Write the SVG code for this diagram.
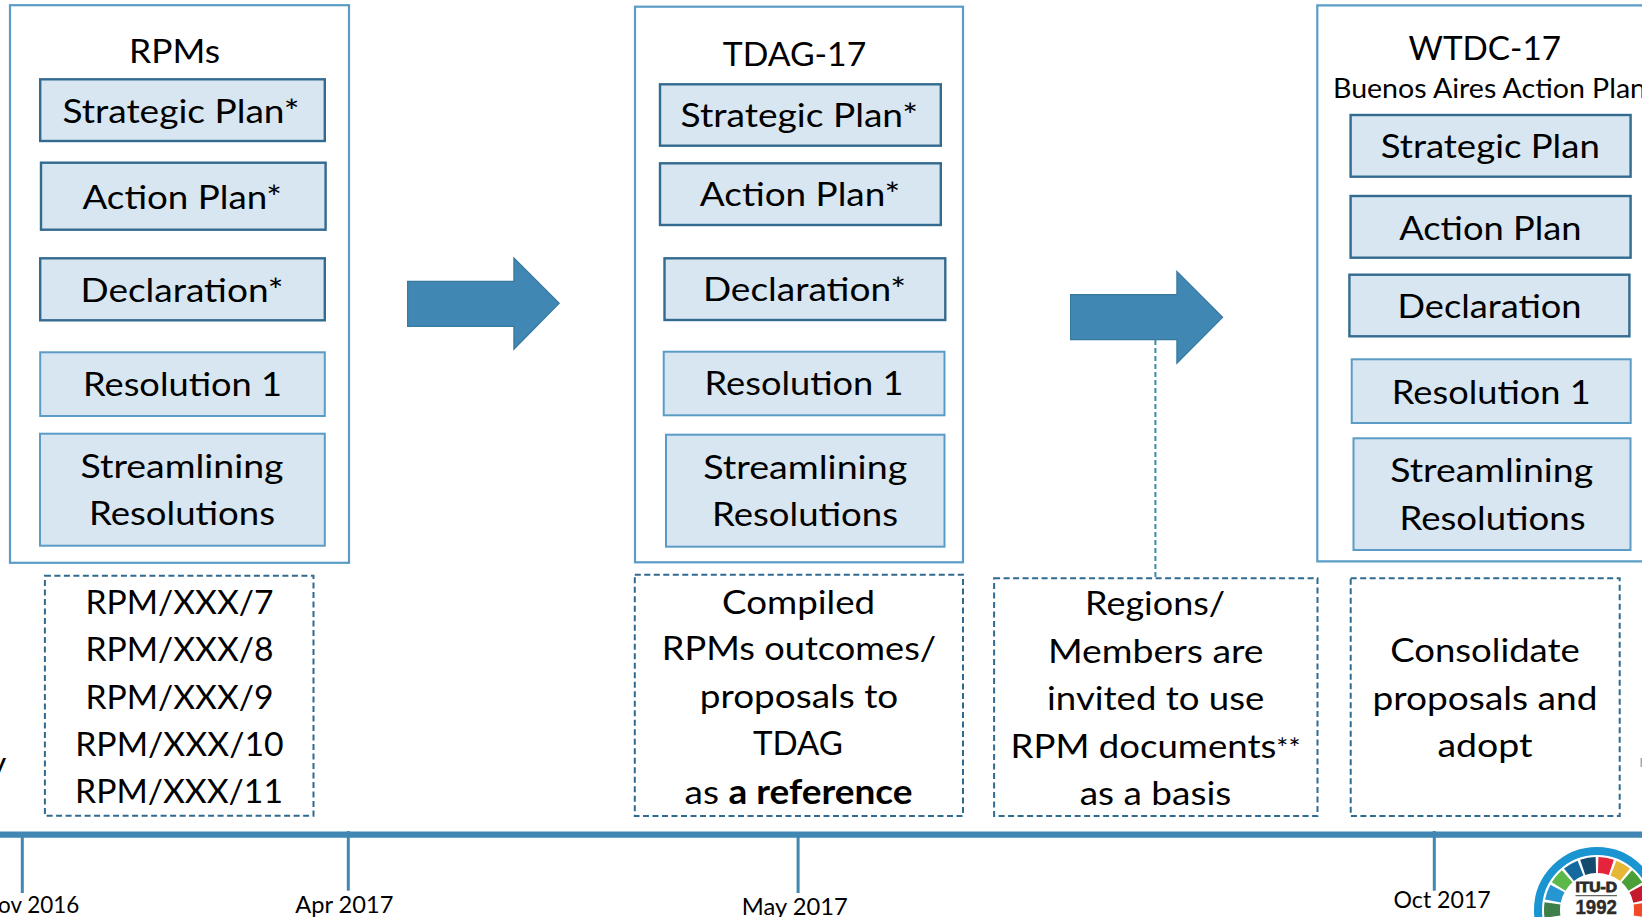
<svg xmlns="http://www.w3.org/2000/svg" width="1642" height="917" viewBox="0 0 1642 917">
<style>
text{font-family:Lato,"Liberation Sans",sans-serif;fill:#000;font-size:33.5px}
.panel{fill:#fff;stroke:#5a9cc5;stroke-width:2.2}
.bd{fill:#d7e6f0;stroke:#336a8f;stroke-width:2.4}
.bl{fill:#d7e6f0;stroke:#5a9cc5;stroke-width:2}
.dash{fill:none;stroke:#2f6a90;stroke-width:2;stroke-dasharray:6 3.5}
.arrow{fill:#4087b3;stroke:#38799f;stroke-width:1.2}
.tick{stroke:#4087b3;stroke-width:3;fill:none}
.date{font-size:22.5px}
.seg{fill:none;stroke-width:16;stroke-dasharray:13.4 270}
.logo1{font-family:"Liberation Sans",sans-serif;font-weight:700;fill:#2b2b2b}
</style>
<rect width="1642" height="917" fill="#fff"/>
<g id="connectors">
<path class="arrow" d="M407.6 281.4H513.9V258L559.2 303.3L513.9 349.2V326.3H407.6Z"/>
<path class="arrow" d="M1070.6 294.7H1176.9V271.4L1222.6 317.3L1176.9 363.2V339.6H1070.6Z"/>
<path d="M1155.4 340V578" fill="none" stroke="#4087b3" stroke-width="2" stroke-dasharray="5 3"/>
<path d="M0 834.6H1642" fill="none" stroke="#4087b3" stroke-width="6.4"/>
<path class="tick" d="M22.3 836V893"/>
<path class="tick" d="M348.3 831V890.7"/>
<path class="tick" d="M798.1 836V893"/>
<path class="tick" d="M1434.3 831V890.7"/>
</g>
<g id="panel-rpms">
<rect class="panel" x="10" y="5.2" width="339" height="557.6"/>
<text x="129" y="63.3" textLength="91" lengthAdjust="spacingAndGlyphs">RPMs</text>
</g>
<g id="rpm-strategic"><rect class="bd" x="40.2" y="79.3" width="284.6" height="61.7"/><text x="62.5" y="123" textLength="237" lengthAdjust="spacingAndGlyphs">Strategic Plan*</text></g>
<g id="rpm-action"><rect class="bd" x="41" y="162.7" width="284.6" height="67"/><text x="82.5" y="209" textLength="199.5" lengthAdjust="spacingAndGlyphs">Action Plan*</text></g>
<g id="rpm-declaration"><rect class="bd" x="40.2" y="258.3" width="284.6" height="62"/><text x="80.5" y="302.3" textLength="203" lengthAdjust="spacingAndGlyphs">Declaration*</text></g>
<g id="rpm-resolution"><rect class="bl" x="40.2" y="352.3" width="284.6" height="63.7"/><text x="83" y="395.7" textLength="199" lengthAdjust="spacingAndGlyphs">Resolution 1</text></g>
<g id="rpm-streamlining"><rect class="bl" x="40" y="433.7" width="284.8" height="112"/><text x="80.6" y="478" textLength="203" lengthAdjust="spacingAndGlyphs">Streamlining</text><text x="89" y="525" textLength="186" lengthAdjust="spacingAndGlyphs">Resolutions</text></g>
<g id="rpm-docs"><rect class="dash" x="44.9" y="575.7" width="268.6" height="240"/>
<text x="85.5" y="613.8" textLength="188" lengthAdjust="spacingAndGlyphs">RPM/XXX/7</text>
<text x="85.5" y="661.2" textLength="188" lengthAdjust="spacingAndGlyphs">RPM/XXX/8</text>
<text x="85.5" y="708.8" textLength="188" lengthAdjust="spacingAndGlyphs">RPM/XXX/9</text>
<text x="75.2" y="756.2" textLength="208.5" lengthAdjust="spacingAndGlyphs">RPM/XXX/10</text>
<text x="75" y="803.3" textLength="208" lengthAdjust="spacingAndGlyphs">RPM/XXX/11</text></g>
<g id="panel-tdag">
<rect class="panel" x="635" y="6.7" width="328" height="555.6"/>
<text x="722.7" y="65.7" textLength="143.6" lengthAdjust="spacingAndGlyphs">TDAG-17</text>
</g>
<g id="tdag-strategic"><rect class="bd" x="660" y="84.3" width="280.8" height="61.4"/><text x="680.6" y="127.3" textLength="237.5" lengthAdjust="spacingAndGlyphs">Strategic Plan*</text></g>
<g id="tdag-action"><rect class="bd" x="660" y="163.3" width="280.8" height="61.7"/><text x="699.8" y="206.2" textLength="200.4" lengthAdjust="spacingAndGlyphs">Action Plan*</text></g>
<g id="tdag-declaration"><rect class="bd" x="664.5" y="258.3" width="280.8" height="61.7"/><text x="702.9" y="301.2" textLength="203.2" lengthAdjust="spacingAndGlyphs">Declaration*</text></g>
<g id="tdag-resolution"><rect class="bl" x="663.7" y="351.7" width="280.8" height="63.6"/><text x="704.6" y="395" textLength="198.9" lengthAdjust="spacingAndGlyphs">Resolution 1</text></g>
<g id="tdag-streamlining"><rect class="bl" x="666" y="434.7" width="278.5" height="112"/><text x="703.3" y="479.3" textLength="203.9" lengthAdjust="spacingAndGlyphs">Streamlining</text><text x="712" y="526" textLength="186" lengthAdjust="spacingAndGlyphs">Resolutions</text></g>
<g id="tdag-note"><rect class="dash" x="634.8" y="574.7" width="328.2" height="241.3"/>
<text x="722.1" y="613.6" textLength="153" lengthAdjust="spacingAndGlyphs">Compiled</text>
<text x="661.8" y="660" textLength="274.4" lengthAdjust="spacingAndGlyphs">RPMs outcomes/</text>
<text x="699.8" y="708.3" textLength="198.5" lengthAdjust="spacingAndGlyphs">proposals to</text>
<text x="753" y="755" textLength="90" lengthAdjust="spacingAndGlyphs">TDAG</text>
<text x="684.6" y="803.6" textLength="227.9" lengthAdjust="spacingAndGlyphs">as <tspan font-weight="700">a reference</tspan></text></g>
<g id="members-note"><rect class="dash" x="994.1" y="578.3" width="323.4" height="237.7"/>
<text x="1085" y="615.3" textLength="140.1" lengthAdjust="spacingAndGlyphs">Regions/</text>
<text x="1048" y="662.6" textLength="215.5" lengthAdjust="spacingAndGlyphs">Members are</text>
<text x="1047.1" y="710.3" textLength="217.3" lengthAdjust="spacingAndGlyphs">invited to use</text>
<text x="1010.5" y="757.6" textLength="290" lengthAdjust="spacingAndGlyphs">RPM documents<tspan style="font-size:26px">**</tspan></text>
<text x="1079.7" y="805.2" textLength="151.6" lengthAdjust="spacingAndGlyphs">as a basis</text></g>
<g id="panel-wtdc">
<path class="panel" d="M1650 5.3H1317.3V561.3H1650"/>
<text x="1408.5" y="60" textLength="152.5" lengthAdjust="spacingAndGlyphs">WTDC-17</text>
<text x="1333" y="97.7" style="font-size:26px" textLength="313" lengthAdjust="spacingAndGlyphs">Buenos Aires Action Plan</text>
</g>
<g id="wtdc-strategic"><rect class="bd" x="1350.6" y="115" width="280" height="61.7"/><text x="1380.8" y="158.4" textLength="219" lengthAdjust="spacingAndGlyphs">Strategic Plan</text></g>
<g id="wtdc-action"><rect class="bd" x="1350.6" y="196" width="280" height="61.7"/><text x="1399.2" y="239.6" textLength="182.3" lengthAdjust="spacingAndGlyphs">Action Plan</text></g>
<g id="wtdc-declaration"><rect class="bd" x="1349.4" y="274.7" width="280" height="61.6"/><text x="1397.5" y="318.3" textLength="184" lengthAdjust="spacingAndGlyphs">Declaration</text></g>
<g id="wtdc-resolution"><rect class="bl" x="1351.7" y="359.3" width="279" height="63.7"/><text x="1391.8" y="403.6" textLength="199" lengthAdjust="spacingAndGlyphs">Resolution 1</text></g>
<g id="wtdc-streamlining"><rect class="bl" x="1353.5" y="438.3" width="277" height="111.7"/><text x="1390.2" y="482" textLength="203" lengthAdjust="spacingAndGlyphs">Streamlining</text><text x="1399.5" y="530.2" textLength="186" lengthAdjust="spacingAndGlyphs">Resolutions</text></g>
<g id="wtdc-note"><rect class="dash" x="1350.7" y="578.3" width="269" height="237.7"/>
<text x="1390.2" y="662.4" textLength="189.6" lengthAdjust="spacingAndGlyphs">Consolidate</text>
<text x="1372.5" y="710" textLength="225" lengthAdjust="spacingAndGlyphs">proposals and</text>
<text x="1437.5" y="757.3" textLength="95" lengthAdjust="spacingAndGlyphs">adopt</text></g>
<g id="dates">
<text class="date" x="-2" y="912.7" textLength="81.2" lengthAdjust="spacingAndGlyphs">ov 2016</text>
<text class="date" x="295.2" y="912.7" textLength="98.2" lengthAdjust="spacingAndGlyphs">Apr 2017</text>
<text class="date" x="741.8" y="915" textLength="106" lengthAdjust="spacingAndGlyphs">May 2017</text>
<text class="date" x="1393.5" y="907.7" textLength="97.2" lengthAdjust="spacingAndGlyphs">Oct 2017</text>
</g>
<g id="edge-fragments">
<text x="-11" y="775">y</text>
<path d="M1641.3 758V767" stroke="#a8a8a8" stroke-width="1.6" fill="none"/>
</g>
<g id="logo">
<circle cx="1597" cy="910" r="59" fill="#fff" stroke="#1b94d2" stroke-width="8"/>
<circle class="seg" cx="1597" cy="910" r="45" stroke="#3f7f4a" transform="rotate(-188.5 1597 910)"/>
<circle class="seg" cx="1597" cy="910" r="45" stroke="#2596d1" transform="rotate(-168.5 1597 910)"/>
<circle class="seg" cx="1597" cy="910" r="45" stroke="#5cb848" transform="rotate(-148.5 1597 910)"/>
<circle class="seg" cx="1597" cy="910" r="45" stroke="#146a9e" transform="rotate(-128.5 1597 910)"/>
<circle class="seg" cx="1597" cy="910" r="45" stroke="#134a6e" transform="rotate(-108.5 1597 910)"/>
<circle class="seg" cx="1597" cy="910" r="45" stroke="#e5243b" transform="rotate(-88.5 1597 910)"/>
<circle class="seg" cx="1597" cy="910" r="45" stroke="#e5b735" transform="rotate(-68.5 1597 910)"/>
<circle class="seg" cx="1597" cy="910" r="45" stroke="#4c9f38" transform="rotate(-48.5 1597 910)"/>
<circle class="seg" cx="1597" cy="910" r="45" stroke="#c5192d" transform="rotate(-28.5 1597 910)"/>
<circle class="seg" cx="1597" cy="910" r="45" stroke="#f04a27" transform="rotate(-8.5 1597 910)"/>
<text class="logo1" x="1575.5" y="891.7" style="font-size:14.5px;stroke:#2b2b2b;stroke-width:.9" textLength="41.5" lengthAdjust="spacingAndGlyphs">ITU-D</text>
<path d="M1575.5 895.7H1617" stroke="#666" stroke-width="1.2" fill="none"/>
<text class="logo1" x="1575.5" y="914" style="font-size:20px;stroke:#2b2b2b;stroke-width:.4" textLength="41.5" lengthAdjust="spacingAndGlyphs">1992</text>
</g>
</svg>
